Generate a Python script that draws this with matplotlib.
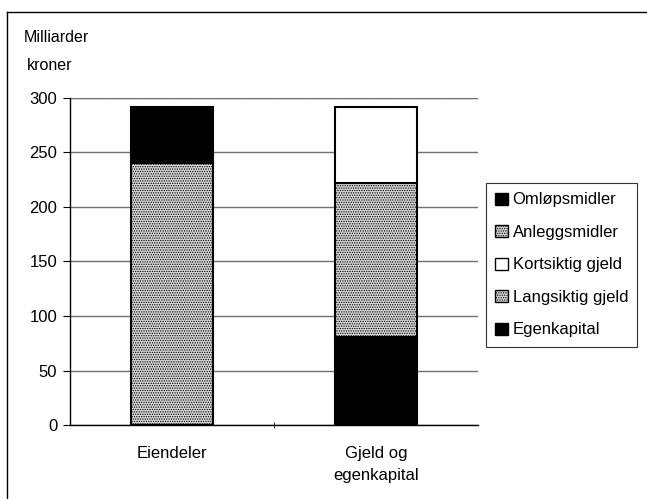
import matplotlib
matplotlib.use("Agg")
from matplotlib import pyplot as plt
from matplotlib.patches import Patch
from matplotlib.lines import Line2D

plt.rcParams['font.family'] = ['Liberation Sans', 'DejaVu Sans']
plt.rcParams['hatch.color'] = '#6e6e6e'
plt.rcParams['hatch.linewidth'] = 0.6

categories = ["Eiendeler", "Gjeld og\negenkapital"]
anleggsmidler = [240, 0]
omlopsmidler = [52, 0]
egenkapital = [0, 81]
langsiktig = [0, 141]
kortsiktig = [0, 70]

fig = plt.figure(figsize=(6.47, 4.99), dpi=100)
ax = fig.add_axes([0.108, 0.148, 0.631, 0.656])

x = [0, 1]
w = 0.4
gray = dict(color='#d4d4d4', hatch='.......', edgecolor='black', linewidth=1.5)
black = dict(color='black', edgecolor='black', linewidth=1.5)
white = dict(color='white', edgecolor='black', linewidth=1.5)

ax.bar(x, anleggsmidler, w, **gray, zorder=3)
ax.bar(x, omlopsmidler, w, bottom=anleggsmidler, **black, zorder=3)
ax.bar(x, egenkapital, w, **black, zorder=3)
ax.bar(x, langsiktig, w, bottom=egenkapital, **gray, zorder=3)
bottom2 = [a + b for a, b in zip(egenkapital, langsiktig)]
ax.bar(x, kortsiktig, w, bottom=bottom2, **white, zorder=3)

ax.set_xlim(-0.5, 1.5)
ax.set_ylim(0, 300)
ax.set_yticks(range(0, 301, 50))
ax.set_xticks(x)
ax.set_xticklabels(categories, fontsize=12, linespacing=1.6)
ax.tick_params(axis='x', length=0, pad=15)
ax.set_xticks([0.5], minor=True)
ax.tick_params(axis='x', which='minor', length=5, direction='inout')
ax.tick_params(axis='y', length=5, labelsize=12, pad=4)
ax.yaxis.grid(True, color='#707070', linewidth=1.0, zorder=0)
for s in ['top', 'right']:
    ax.spines[s].set_visible(False)
ax.spines['left'].set_linewidth(1.0)
ax.spines['bottom'].set_linewidth(1.0)
ax.axhline(300, color='#555555', linewidth=1.0, linestyle=(0, (1, 1)), zorder=1)

fig.text(0.036, 0.925, "Milliarder", fontsize=11.5, va='center', ha='left')
fig.text(0.042, 0.868, "kroner", fontsize=11.5, va='center', ha='left')

handles = [
    Patch(facecolor='black', edgecolor='black', label='Omløpsmidler'),
    Patch(facecolor='#d4d4d4', hatch='.......', edgecolor='black', label='Anleggsmidler'),
    Patch(facecolor='white', edgecolor='black', label='Kortsiktig gjeld'),
    Patch(facecolor='#d4d4d4', hatch='.......', edgecolor='black', label='Langsiktig gjeld'),
    Patch(facecolor='black', edgecolor='black', label='Egenkapital'),
]
leg = fig.legend(handles=handles, loc='center left', bbox_to_anchor=(0.751, 0.469),
                 frameon=True, fancybox=False, edgecolor='black', fontsize=12,
                 handlelength=0.75, handleheight=0.75, handletextpad=0.3,
                 labelspacing=1.05, borderpad=0.55, borderaxespad=0)
leg.get_frame().set_linewidth(0.8)

fig.add_artist(Line2D([0.011, 0.011], [0.0, 0.976], transform=fig.transFigure,
                      color='black', linewidth=1.0))
fig.add_artist(Line2D([0.011, 1.0], [0.976, 0.976], transform=fig.transFigure,
                      color='black', linewidth=1.0))

fig.savefig("out.png", dpi=100)
